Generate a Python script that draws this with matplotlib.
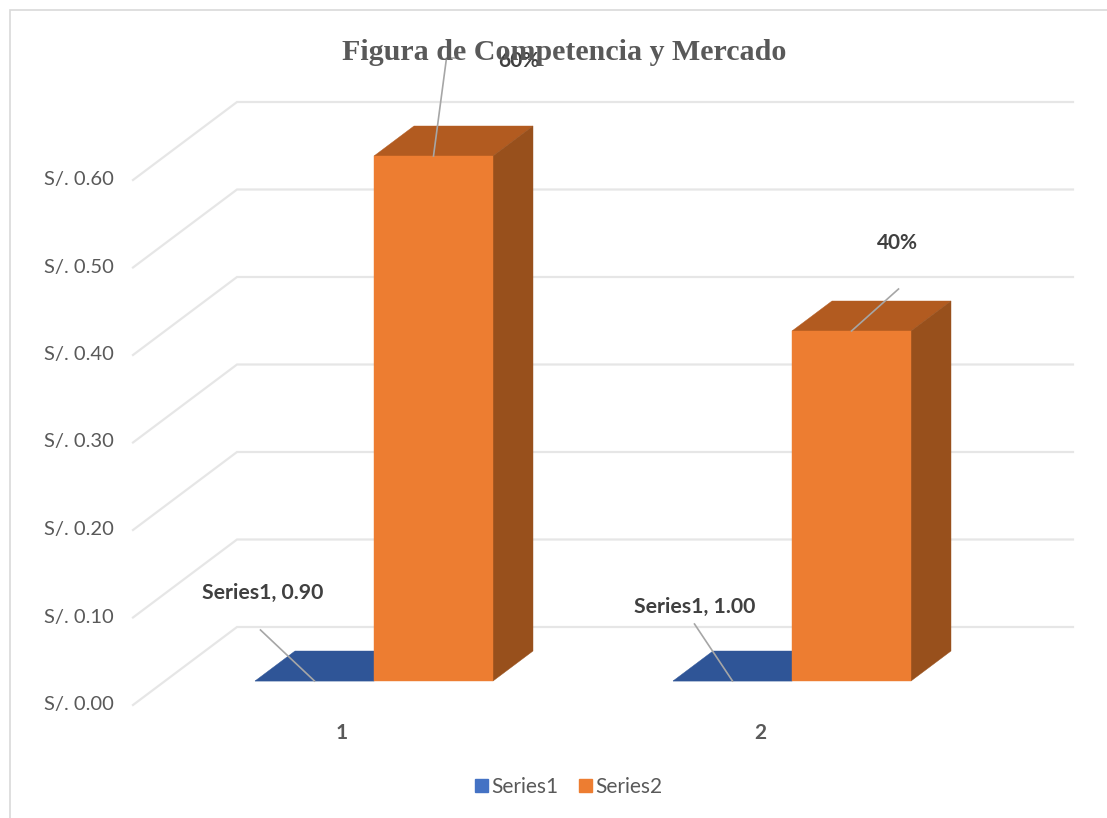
import matplotlib
matplotlib.use("Agg")
import matplotlib.pyplot as plt
from matplotlib.patches import Polygon, Rectangle, Patch
from matplotlib.ticker import FuncFormatter
from matplotlib.transforms import ScaledTranslation

# ---- data ----
categories = [1, 2]
series1_name = "Series1"
series2_name = "Series2"
series1_heights = [0.0, 0.0]
series1_labels = ["Series1, 0.90", "Series1, 1.00"]
series2_values = [0.60, 0.40]
series2_labels = ["60%", "40%"]
y_ticks = [0.0, 0.1, 0.2, 0.3, 0.4, 0.5, 0.6]
title = "Figura de Competencia y Mercado"

# ---- style ----
W, H = 1107, 818
plt.rcParams["font.family"] = ["Lato", "DejaVu Sans"]
GRID = "#e6e6e6"
TEXT = "#595959"
LABEL = "#404040"
LEADER = "#a6a6a6"
BLUE_LEG = "#4472C4"
BLUE_TOP = "#2F5597"
OR_FRONT = "#ED7D31"
OR_TOP = "#B25B20"
OR_SIDE = "#98501C"

fig = plt.figure(figsize=(W / 100, H / 100), dpi=100, facecolor="white")
fig.add_artist(Rectangle((10 / W, -0.01), 1.01, 1.01 - 10 / H, transform=fig.transFigure,
                         fill=False, edgecolor="#d9d9d9", linewidth=1.2))
ax = fig.add_axes([133 / W, 1 - 705 / H, 836 / W, 525 / H])
ax.set_xlim(0.5, 2.5)
ax.set_ylim(0, 0.6)
ax.patch.set_visible(False)
for s in ax.spines.values():
    s.set_visible(False)

# oblique projection: depth d runs from 0 (front plane) to 1 (back wall)
DX = 104 / 418
DY = 78 / 875
def proj(x, y, d):
    return (x + d * DX, y + d * DY)

BAR_W = 119 / 418
D0, D1 = 24 / 78, 54 / 78

# gridlines on side wall and back wall
for v in y_ticks:
    p0 = proj(0.5, v, 0)
    p1 = proj(0.5, v, 1)
    p2 = proj(2.5, v, 1)
    ax.plot([p0[0], p1[0], p2[0]], [p0[1], p1[1], p2[1]], color=GRID, lw=1.6,
            clip_on=False, zorder=1, solid_joinstyle="miter")

def box(x0, x1, h, front, top, side, z):
    a = [proj(x0, 0, D0), proj(x1, 0, D0), proj(x1, h, D0), proj(x0, h, D0)]
    t = [proj(x0, h, D0), proj(x1, h, D0), proj(x1, h, D1), proj(x0, h, D1)]
    s = [proj(x1, 0, D0), proj(x1, 0, D1), proj(x1, h, D1), proj(x1, h, D0)]
    for pts, c in ((t, top), (s, side), (a, front)):
        ax.add_patch(Polygon(pts, closed=True, facecolor=c, edgecolor=c, lw=0.3,
                             clip_on=False, zorder=z))

for c, h1, h2 in zip(categories, series1_heights, series2_values):
    box(c - BAR_W, c, h1, BLUE_TOP, BLUE_TOP, BLUE_TOP, 2)
    box(c, c + BAR_W, h2, OR_FRONT, OR_TOP, OR_SIDE, 3)

# data labels with leader lines (offsets in pixels from the anchor on the front top edge)
def leader(anchor, pts):
    a = ax.transData.transform(anchor)
    inv = fig.transFigure.inverted()
    xy = [inv.transform((a[0] + o[0], a[1] + o[1])) for o in [(0, 0)] + pts]
    fig.add_artist(plt.Line2D([p[0] for p in xy], [p[1] for p in xy], color=LEADER, lw=1.2, zorder=6))

for c, lab, off_t, off_l in zip(categories, series1_labels,
                                [(-52, 88), (-38, 74)],
                                [[(-54, 51)], [(-38, 57)]]):
    anchor = proj(c - BAR_W / 2, 0, D0)
    leader(anchor, off_l)
    ax.annotate(lab, xy=anchor, xytext=off_t, textcoords="offset pixels", ha="center", va="center",
                fontsize=15.3, fontweight="bold", color=LABEL, annotation_clip=False, zorder=7)

for c, v, lab, off_t, off_l in zip(categories, series2_values, series2_labels,
                                   [(85, 95), (46, 88)],
                                   [[(13, 98), (25, 98)], [(47, 42)]]):
    anchor = proj(c + BAR_W / 2, v, D0)
    leader(anchor, off_l)
    ax.annotate(lab, xy=anchor, xytext=off_t, textcoords="offset pixels", ha="center", va="center",
                fontsize=15, fontweight="bold", color=LABEL, annotation_clip=False, zorder=9)

# axes
ax.set_xticks(categories)
ax.set_xticklabels([str(c) for c in categories], fontweight="bold", fontsize=15, color=TEXT)
ax.set_yticks(y_ticks)
ax.yaxis.set_major_formatter(FuncFormatter(lambda v, _: f"S/. {v:.2f}"))
ax.tick_params(axis="x", length=0, pad=13)
ax.tick_params(axis="y", length=0, pad=14, labelsize=14.5, labelcolor=TEXT)
shift = ScaledTranslation(0, 2 / 72 * 0.72, fig.dpi_scale_trans)
for t in ax.get_yticklabels():
    t.set_transform(t.get_transform() + shift)

# title
fig.text(564.5 / W, 1 - 52 / H, title, ha="center", va="center", family="Liberation Serif",
         fontweight="bold", fontsize=21.6, color=TEXT, zorder=8)

# legend
handles = [Patch(color=BLUE_LEG, label=series1_name), Patch(color=OR_FRONT, label=series2_name)]
fig.legend(handles=handles, loc="center", bbox_to_anchor=(568.5 / W, 1 - 787 / H), ncol=2, frameon=False,
           fontsize=15, labelcolor=TEXT, handlelength=0.62, handleheight=0.62, handletextpad=0.16,
           columnspacing=1.0)

fig.savefig("out.png", dpi=100, facecolor="white")
